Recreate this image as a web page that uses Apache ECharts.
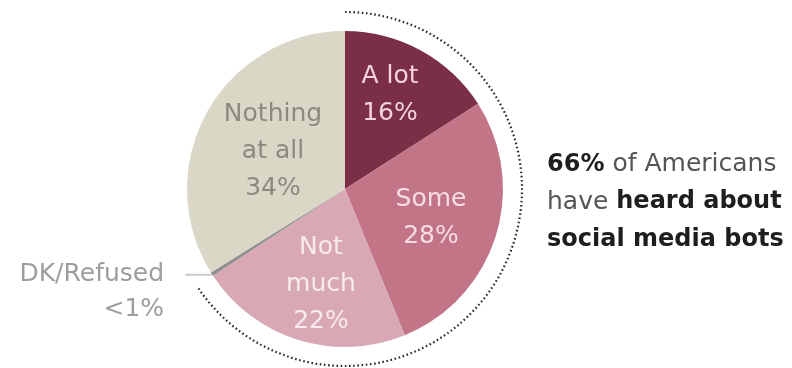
<!DOCTYPE html>
<html>
<head>
<meta charset="utf-8">
<style>
  html, body { margin: 0; padding: 0; background: #ffffff; }
  #chart { width: 792px; height: 368px; }
</style>
<script src="https://cdn.jsdelivr.net/npm/echarts@6/dist/echarts.min.js"></script>
</head>
<body>
<div id="chart"></div>
<script>
// Share of Americans by how much they have heard about social media bots
const categories = ['A lot', 'Some', 'Not much', 'DK/Refused', 'Nothing at all'];
const labelNames = ['A lot', 'Some', 'Not\nmuch', 'DK/Refused', 'Nothing\nat all'];
const shares = [16, 28, 22, 0.4, 34];
const shareLabels = ['16%', '28%', '22%', '<1%', '34%'];
const heardGroup = ['A lot', 'Some', 'Not much'];
const headlineShare = '66%';

const sliceColors = ['#7b2f46', '#c17587', '#d8a9b5', '#8f8f8f', '#dad7c6'];
const labelColors = ['#f4d3dc', '#f6dde3', '#f8eaee', '#9d9d9d', '#8b8a7e'];

const CX = 345, CY = 189, R = 158, ARC_R = 177;
const FONT = '"DejaVu Sans", Verdana, sans-serif';

// centres of the in-slice label blocks
const labelSpots = {
  'A lot': [390, 95],
  'Some': [431, 218],
  'Not much': [321, 284],
  'Nothing at all': [273, 151]
};

const total = shares.reduce((a, b) => a + b, 0);
const heardTotal = categories.reduce(
  (s, c, i) => s + (heardGroup.indexOf(c) >= 0 ? shares[i] : 0), 0);

const data = categories.map((name, i) => {
  const item = {
    name: name,
    value: shares[i],
    itemStyle: { color: sliceColors[i] },
    label: {
      color: labelColors[i],
      formatter: labelNames[i] + '\n' + shareLabels[i]
    }
  };
  if (name === 'DK/Refused') {
    // leading blank line keeps the first text line level with the leader line
    item.label = {
      position: 'outside',
      color: labelColors[i],
      fontSize: 25,
      lineHeight: 35,
      align: 'right',
      distanceToLabelLine: 21,
      formatter: '\n' + labelNames[i] + '\n' + shareLabels[i]
    };
    item.labelLine = {
      show: true,
      length: 1,
      length2: 26,
      lineStyle: { color: '#c9c9d1', width: 2 }
    };
  }
  return item;
});

const chart = echarts.init(document.getElementById('chart'), null, { renderer: 'canvas' });

chart.setOption({
  animation: false,
  backgroundColor: '#ffffff',
  series: [{
    type: 'pie',
    center: [CX, CY],
    radius: [0, R],
    startAngle: 90,
    clockwise: true,
    avoidLabelOverlap: false,
    itemStyle: { borderWidth: 0 },
    label: {
      show: true,
      position: 'inside',
      fontFamily: FONT,
      fontSize: 25,
      lineHeight: 37,
      align: 'center'
    },
    labelLine: { show: false },
    labelLayout: function (p) {
      const spot = labelSpots[categories[p.dataIndex]];
      if (!spot) return {};
      return { x: spot[0], y: spot[1], align: 'center', verticalAlign: 'middle' };
    },
    emphasis: { disabled: true },
    data: data
  }],
  graphic: [
    {
      // dotted arc spanning everyone who has heard at least something
      type: 'arc',
      shape: {
        cx: CX, cy: CY, r: ARC_R,
        startAngle: -Math.PI / 2,
        endAngle: -Math.PI / 2 + 2 * Math.PI * heardTotal / total,
        clockwise: true
      },
      style: { fill: null, stroke: '#2b2b2b', lineWidth: 2.2, lineDash: [1.6, 2.6] },
      silent: true
    },
    {
      type: 'text',
      left: 547,
      top: 152,
      style: {
        text: '{b|' + headlineShare + '}{r| of Americans}\n{r|have }{b|heard about}\n{b|social media bots}',
        rich: {
          b: { fontFamily: FONT, fontSize: 24, fontWeight: 'bold', fill: '#1e1e1e', lineHeight: 37.5 },
          r: { fontFamily: FONT, fontSize: 25, fill: '#555555', lineHeight: 37.5 }
        }
      }
    }
  ]
});
</script>
</body>
</html>
